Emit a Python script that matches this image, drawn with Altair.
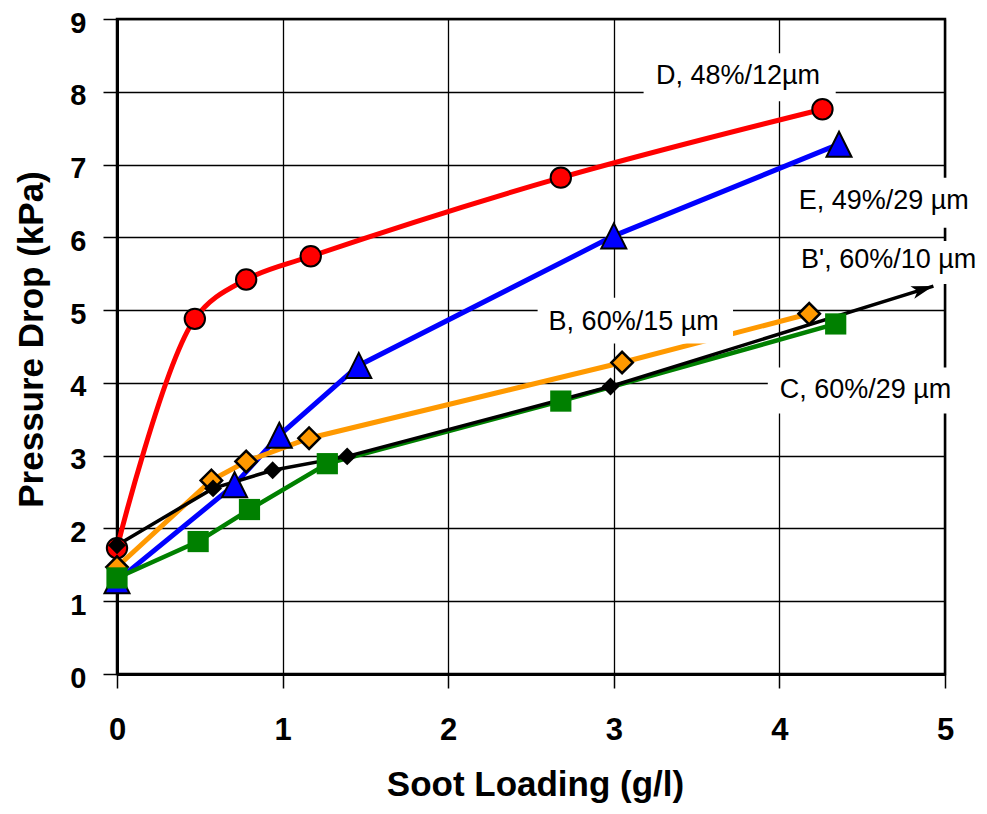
import altair as alt
import pandas as pd

# ---------------- data ----------------
# D, 48%/12um  (red circles)
d_x = [0.0, 0.47, 0.78, 1.17, 2.68, 4.26]
d_y = [1.73, 4.88, 5.42, 5.74, 6.82, 7.76]
# E, 49%/29 um (blue triangles)
e_x = [0.0, 0.71, 0.98, 1.46, 3.00, 4.36]
e_y = [1.28, 2.60, 3.28, 4.24, 6.02, 7.28]
# B, 60%/15 um (orange diamonds)
b_x = [0.0, 0.57, 0.78, 1.16, 3.05, 4.18]
b_y = [1.47, 2.66, 2.92, 3.24, 4.28, 4.95]
# B', 60%/10 um (small black diamonds, line ends in an arrow)
bp_x = [0.0, 0.58, 0.94, 1.39, 2.98]
bp_y = [1.77, 2.55, 2.80, 2.99, 3.95]
bp_tip_x = [4.93]
bp_tip_y = [5.33]
# C, 60%/29 um (green squares)
c_x = [0.0, 0.49, 0.80, 1.27, 2.68, 4.34]
c_y = [1.32, 1.82, 2.26, 2.89, 3.75, 4.81]

x_ticks = [0, 1, 2, 3, 4, 5]
y_ticks = [0, 1, 2, 3, 4, 5, 6, 7, 8, 9]

labels = ["D, 48%/12µm", "E, 49%/29 µm", "B', 60%/10 µm", "B, 60%/15 µm", "C, 60%/29 µm"]
label_x = [3.75, 4.63, 4.66, 3.12, 4.52]
label_y = [8.22, 6.50, 5.69, 4.84, 3.90]
box_x0 = [3.18, 4.07, 4.07, 2.54, 3.93]
box_x1 = [4.34, 5.30, 5.32, 3.72, 5.10]
box_y0 = [7.87, 6.13, 5.36, 4.54, 3.58]
box_y1 = [8.53, 6.82, 5.95, 5.17, 4.21]

# ---------------- styling ----------------
FONT = "Liberation Sans"
TRI = "M0,-1L1,1L-1,1Z"
ARROW = "M0,0L-2,-0.6L-1.5,0L-2,0.6Z"

xscale = alt.Scale(domain=[0, 5], nice=False, zero=False)
yscale = alt.Scale(domain=[0, 9], nice=False, zero=False)

xaxis = alt.Axis(
    values=x_ticks, format="d", title="Soot Loading (g/l)",
    labelFont=FONT, labelFontSize=31, labelFontWeight="bold", labelColor="black",
    labelPadding=27, labelFlush=False,
    tickSize=14, tickColor="black", tickWidth=1.5,
    domainColor="black", domainWidth=3,
    grid=True, gridColor="black", gridWidth=1.3, gridOpacity=1,
    titleFont=FONT, titleFontSize=35, titleFontWeight="bold", titleColor="black",
    titleX=418, titleY=121, titleBaseline="alphabetic", titleAlign="center",
)
yaxis = alt.Axis(
    values=y_ticks, format="d", title="Pressure Drop (kPa)",
    labelFont=FONT, labelFontSize=29, labelFontWeight="bold", labelColor="black",
    labelPadding=17, labelFlush=False, labelOffset=4,
    tickSize=14, tickColor="black", tickWidth=1.5,
    domainColor="black", domainWidth=3,
    grid=True, gridColor="black", gridWidth=1.3, gridOpacity=1,
    titleFont=FONT, titleFontSize=35, titleFontWeight="bold", titleColor="black",
    titleAngle=270, titleX=-75, titleY=320, titleBaseline="alphabetic", titleAlign="center",
)

def X(field="x"):
    return alt.X(f"{field}:Q", scale=xscale, axis=xaxis)

def Y(field="y"):
    return alt.Y(f"{field}:Q", scale=yscale, axis=yaxis)

series = [
    # name, xs, ys, line color, line width, interpolate, shape, size, fill, stroke, strokeWidth
    ("D", d_x, d_y, "#FF0000", 5, "catmull-rom", "circle", 415, "#FF0000", "black", 2),
    ("E", e_x, e_y, "#0000FF", 5, "linear", TRI, 625, "#0000FF", "black", 2),
    ("B", b_x, b_y, "#FF9900", 5, "linear", "diamond", 460, "#FF9900", "black", 2.5),
    ("C", c_x, c_y, "#008000", 4.5, "linear", "square", 450, "#008000", None, 0),
    ("Bp", bp_x, bp_y, "#000000", 3.5, "linear", "diamond", 320, "#000000", None, 0),
]

line_layers = []
point_layers = []
for name, xs, ys, col, lw, interp, shape, size, fill, stroke, sw in series:
    lx = list(xs)
    ly = list(ys)
    if name == "Bp":
        lx = lx + bp_tip_x
        ly = ly + bp_tip_y
    ldf = pd.DataFrame({"x": lx, "y": ly, "o": list(range(len(lx)))})
    line_layers.append(
        alt.Chart(ldf).mark_line(color=col, strokeWidth=lw, interpolate=interp)
        .encode(x=X(), y=Y(), order="o:Q")
    )
    pdf = pd.DataFrame({"x": xs, "y": ys})
    pkw = dict(shape=shape, size=size, fill=fill, fillOpacity=1, opacity=1, filled=True)
    if stroke:
        pkw.update(stroke=stroke, strokeWidth=sw)
    else:
        pkw.update(strokeWidth=0)
    point_layers.append(alt.Chart(pdf).mark_point(**pkw).encode(x=X(), y=Y()))

arrow = alt.Chart(pd.DataFrame({"x": bp_tip_x, "y": bp_tip_y})).mark_point(
    shape=ARROW, size=484, filled=True, fill="black", strokeWidth=0, angle=343, opacity=1
).encode(x=X(), y=Y())

ann = pd.DataFrame({
    "label": labels, "x": label_x, "y": label_y,
    "x0": box_x0, "x1": box_x1, "y0": box_y0, "y1": box_y1,
})
boxes = alt.Chart(ann).mark_rect(fill="white", stroke=None).encode(
    x=X("x0"), x2="x1:Q", y=Y("y0"), y2="y1:Q"
)
texts = alt.Chart(ann).mark_text(
    font=FONT, fontSize=27, color="black", align="center", baseline="middle"
).encode(x=X(), y=Y(), text="label:N")

chart = alt.layer(
    *line_layers, boxes, *point_layers, arrow, texts
).properties(
    width=828, height=655,
    autosize=alt.AutoSizeParams(type="none"),
    padding={"left": 109, "top": 11, "right": 34, "bottom": 132},
).configure_view(
    stroke="black", strokeWidth=2.5
)

chart.save("out.html", embed_options={"renderer": "svg", "actions": False})
